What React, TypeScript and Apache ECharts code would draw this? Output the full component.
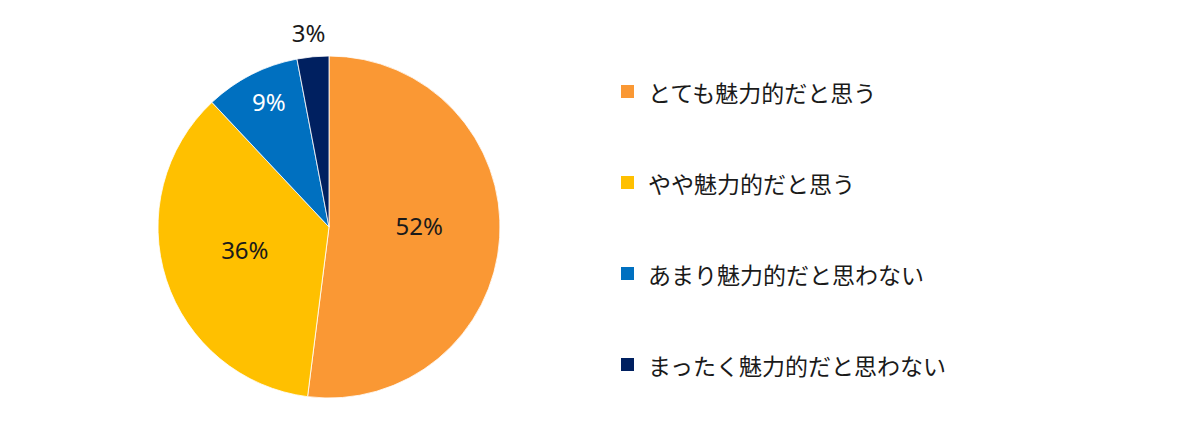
import React, { useEffect, useRef } from 'react';
import * as echarts from 'echarts';

// answer categories and shares (%)
const categories = [
    'とても魅力的だと思う',
    'やや魅力的だと思う',
    'あまり魅力的だと思わない',
    'まったく魅力的だと思わない',
];
const shares = [52, 36, 9, 3];
const colors = ['#FA9834', '#FFC000', '#0070C0', '#002060'];
const labelColors = ['#1a1a1a', '#1a1a1a', '#ffffff', '#1a1a1a'];
// nudges from the default inside spot, Excel puts them a bit elsewhere
const labelShift = [
    [2, -7],
    [0, -5],
    [-20, -47],
    [-12, -106],
];

const App: React.FC = () => {
    const chartRef = useRef<HTMLDivElement>(null);

    useEffect(() => {
        if (!chartRef.current) return;
        const chart = echarts.init(chartRef.current, null, { renderer: 'svg' });

        const option = {
            animation: false,
            backgroundColor: '#ffffff',
            legend: {
                orient: 'vertical',
                left: 619,
                top: 80,
                padding: 0,
                itemWidth: 15,
                itemHeight: 15,
                itemGap: 68,
                icon: 'rect',
                selectedMode: false,
                data: categories,
                textStyle: {
                    fontFamily: '"Noto Sans CJK JP", sans-serif',
                    fontSize: 23,
                    lineHeight: 23,
                    color: '#1a1a1a',
                    padding: [0, 0, 0, 8],
                },
            },
            series: [
                {
                    type: 'pie',
                    center: [329, 227],
                    radius: 171,
                    startAngle: 90,
                    clockwise: true,
                    label: {
                        show: true,
                        position: 'inside',
                        formatter: '{c}%',
                        fontFamily: '"Noto Sans", sans-serif',
                        fontSize: 24,
                    },
                    labelLine: { show: false },
                    labelLayout: (p: any) => ({
                        dx: labelShift[p.dataIndex][0],
                        dy: labelShift[p.dataIndex][1],
                    }),
                    itemStyle: { borderColor: '#ffffff', borderWidth: 0.8 },
                    emphasis: { disabled: true },
                    data: categories.map((name, i) => ({
                        name,
                        value: shares[i],
                        itemStyle: { color: colors[i] },
                        label: { color: labelColors[i] },
                    })),
                },
            ],
        };

        chart.setOption(option as any);
        return () => chart.dispose();
    }, []);

    return (
        <div
            ref={chartRef}
            style={{ position: 'absolute', left: 0, top: 0, width: '1200px', height: '440px' }}
        />
    );
};

export default App;
